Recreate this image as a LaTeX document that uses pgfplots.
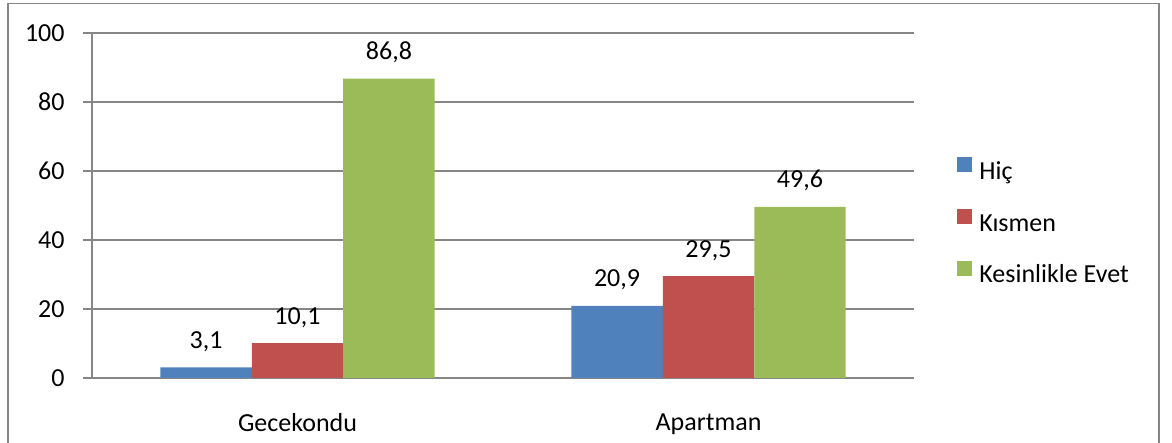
\documentclass[border=0pt]{standalone}
\usepackage{pgfplots}
\pgfplotsset{compat=1.18}
\usepackage{fontspec}
\setmainfont{Carlito}

\definecolor{hicblue}{HTML}{4F81BD}
\definecolor{kisred}{HTML}{C0504D}
\definecolor{evetgreen}{HTML}{9BBB59}
\definecolor{gridgray}{HTML}{868686}

\begin{document}
\begin{tikzpicture}[x=0.5pt,y=0.5pt]
% picture = 1172 x 443 px, 1 px = 0.5pt, axis corner at px (92, 378)
\useasboundingbox (-92,-65) rectangle (1080,378);
\begin{axis}[
    at={(0pt,0pt)}, anchor=south west,
    scale only axis,
    width=411pt, height=172.5pt,
    font=\fontsize{13}{15}\selectfont,
    /pgf/number format/assume math mode=true,
    ybar, bar width=0.2226,
    xmin=-0.5, xmax=1.5,
    ymin=0, ymax=100,
    ytick={0,20,...,100},
    xtick={0,1},
    xticklabels={Gecekondu,Apartman},
    minor xtick={-0.5,0.5,1.5},
    major tick length=4.5pt,
    minor tick length=4.5pt,
    tick align=outside,
    axis x line*=bottom,
    axis y line*=left,
    axis line style={gridgray, line width=0.65pt},
    every tick/.style={gridgray, line width=0.65pt},
    every x tick/.style={draw=none},
    every minor x tick/.style={gridgray, line width=0.65pt},
    ymajorgrids,
    major grid style={gridgray, line width=0.65pt},
    yticklabel style={anchor=east, inner sep=0pt, xshift=-9pt},
    xticklabel style={anchor=north, inner sep=0pt, yshift=-13pt},
    nodes near coords,
    every node near coord/.append style={anchor=base, inner sep=0pt, yshift=9.5pt, font=\fontsize{13}{15}\selectfont},
    nodes near coords style={/pgf/number format/.cd, fixed, fixed zerofill, precision=1, use comma, assume math mode=true},
    legend style={draw=none, fill=none, at={(1,0.449)}, anchor=west, xshift=21.5pt,
        inner sep=0pt, row sep=12pt,
        nodes={inner sep=0pt, text height=9pt, text depth=3pt, anchor=west},
        font=\fontsize{13}{15}\selectfont},
    legend cell align=left,
    legend image code/.code={\fill[#1] (0pt,0.45pt) rectangle (7.5pt,7.95pt);},
]
\addplot[fill=hicblue, draw=none, bar shift=-0.2226] coordinates {(0,3.1) (1,20.9)};
\addlegendentry{\hspace{3.5pt}Hiç}
\addplot[fill=kisred, draw=none, bar shift=0] coordinates {(0,10.1) (1,29.5)};
\addlegendentry{\hspace{3.5pt}Kısmen}
\addplot[fill=evetgreen, draw=none, bar shift=0.2226] coordinates {(0,86.8) (1,49.6)};
\addlegendentry{\hspace{3.5pt}Kesinlikle Evet}
\end{axis}
% chart frame (bottom edge lies below the picture)
\draw[gridgray, line width=0.65pt] (-84,-80) -- (-84,374.5) -- (1067,374.5) -- (1067,-80);
\end{tikzpicture}
\end{document}
